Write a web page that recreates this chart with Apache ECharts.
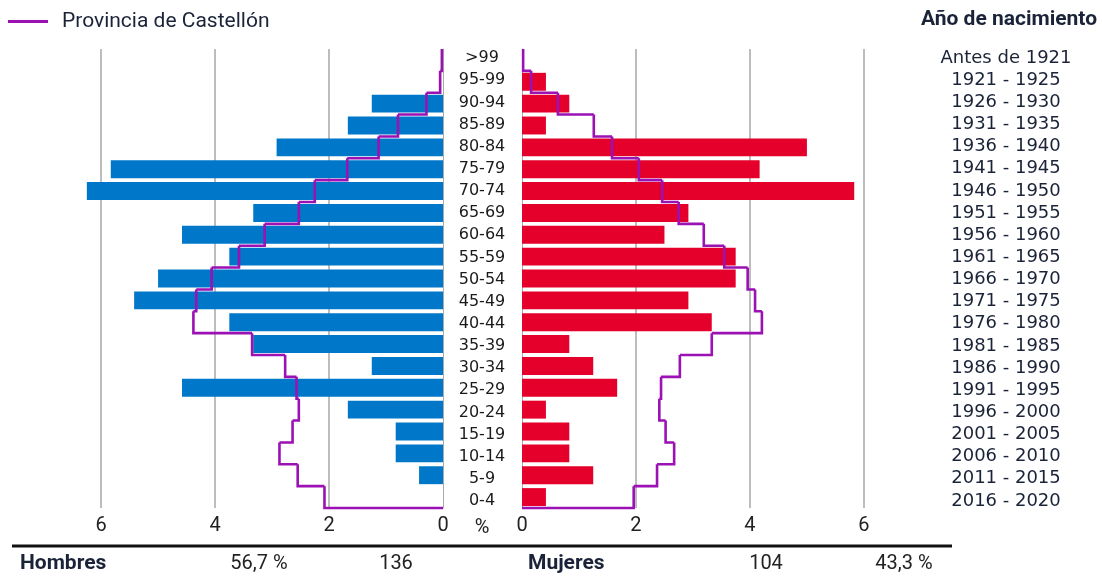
<!DOCTYPE html>
<html><head><meta charset="utf-8">
<script src="https://cdn.jsdelivr.net/npm/echarts@6/dist/echarts.min.js"></script>
<style>html,body{margin:0;padding:0;background:#fff}#c{width:1102px;height:579px}</style>
</head><body><div id="c"></div>
<script>
// ---- data (top row first) ----
const ageGroups = ['>99','95-99','90-94','85-89','80-84','75-79','70-74','65-69','60-64','55-59','50-54','45-49','40-44','35-39','30-34','25-29','20-24','15-19','10-14','5-9','0-4'];
const birthYears = ['Antes de 1921','1921 - 1925','1926 - 1930','1931 - 1935','1936 - 1940','1941 - 1945','1946 - 1950','1951 - 1955','1956 - 1960','1961 - 1965','1966 - 1970','1971 - 1975','1976 - 1980','1981 - 1985','1986 - 1990','1991 - 1995','1996 - 2000','2001 - 2005','2006 - 2010','2011 - 2015','2016 - 2020'];
const menPct = [0, 0, 1.25, 1.67, 2.92, 5.83, 6.25, 3.33, 4.58, 3.75, 5.00, 5.42, 3.75, 3.33, 1.25, 4.58, 1.67, 0.83, 0.83, 0.42, 0];
const womenPct = [0, 0.42, 0.83, 0.42, 5.00, 4.17, 5.83, 2.92, 2.50, 3.75, 3.75, 2.92, 3.33, 0.83, 1.25, 1.67, 0.42, 0.83, 0.83, 1.25, 0.42];
const provMenPct = [0.02, 0.05, 0.29, 0.79, 1.13, 1.68, 2.25, 2.53, 3.13, 3.58, 4.06, 4.33, 4.38, 3.35, 2.77, 2.57, 2.53, 2.64, 2.87, 2.55, 2.08];
const provWomenPct = [0.02, 0.16, 0.63, 1.26, 1.58, 2.05, 2.46, 2.75, 3.19, 3.55, 3.96, 4.09, 4.21, 3.33, 2.77, 2.44, 2.41, 2.52, 2.67, 2.37, 1.96];
const gridTicks = [2, 4, 6];
const legendName = 'Provincia de Castellón';
const menLabel = 'Hombres', menShare = '56,7 %', menCount = '136';
const womenLabel = 'Mujeres', womenCount = '104', womenShare = '43,3 %';
const yearsTitle = 'Año de nacimiento';

const BLUE = '#0077c8', RED = '#e4002b', PURPLE = '#9b11b4';
const TXT = '#1b2338';
const AXMAX = 6.3;

function stepData(vals) {
  return vals.map((v, i) => [v, i, i < vals.length - 1 ? vals[i + 1] : 0]);
}
function stepRender(params, api) {
  const v = api.value(0), i = api.value(1), vn = api.value(2);
  const c = api.coord([v, i]);
  const n = api.coord([vn, i]);
  const h = api.size([0, 1])[1];
  const top = c[1] - h / 2, bot = c[1] + h / 2;
  return {
    type: 'polyline',
    shape: { points: [[c[0], top], [c[0], bot], [n[0], bot]] },
    style: { stroke: PURPLE, lineWidth: 2.6, fill: null }
  };
}
const gridLineMark = {
  silent: true, symbol: 'none', z: 1,
  label: { show: false },
  lineStyle: { color: '#bdbdbd', width: 2, type: 'solid' },
  emphasis: { disabled: true },
  data: gridTicks.map(t => ({ xAxis: t }))
};
const xLabel = {
  color: '#222', fontFamily: 'Roboto', fontSize: 20, margin: 8,
  showMaxLabel: false,
  formatter: v => (Math.abs(v - Math.round(v)) < 1e-9 ? String(v) : '')
};

const chart = echarts.init(document.getElementById('c'), null, { renderer: 'canvas' });
chart.setOption({
  animation: false,
  backgroundColor: '#fff',
  legend: {
    left: 3, top: 6,
    icon: 'rect', itemWidth: 40, itemHeight: 3,
    textStyle: { fontFamily: 'Roboto', fontSize: 21, color: TXT, padding: [0, 0, 0, 9] },
    data: [{ name: legendName, itemStyle: { color: PURPLE } }],
    selectedMode: false
  },
  grid: [
    { left: 84, width: 359, top: 49, height: 459 },
    { left: 522, width: 359, top: 49, height: 459 },
    { left: 522, width: 359, top: 47, height: 465 }
  ],
  xAxis: [
    { gridIndex: 0, type: 'value', inverse: true, min: 0, max: AXMAX, interval: 2,
      axisLine: { show: false }, axisTick: { show: false }, splitLine: { show: false }, axisLabel: xLabel },
    { gridIndex: 1, type: 'value', min: 0, max: AXMAX, interval: 2,
      axisLine: { show: false }, axisTick: { show: false }, splitLine: { show: false }, axisLabel: xLabel },
    { gridIndex: 2, type: 'value', min: 0, max: AXMAX, show: false }
  ],
  yAxis: [
    { gridIndex: 0, type: 'category', data: ageGroups, inverse: true, position: 'right',
      axisLine: { show: true, lineStyle: { color: '#aaaaaa', width: 1 } },
      axisTick: { show: false }, axisLabel: { show: false }, splitLine: { show: false } },
    { gridIndex: 1, type: 'category', data: ageGroups, inverse: true, position: 'left',
      axisLine: { show: true, lineStyle: { color: '#aaaaaa', width: 1 } },
      axisTick: { show: false }, splitLine: { show: false }, axisLabel: { show: false } },
    { gridIndex: 2, type: 'category', data: ageGroups, inverse: true, position: 'left',
      axisLine: { show: false }, axisTick: { show: false }, splitLine: { show: false },
      axisLabel: { show: true, interval: 0, margin: 40, align: 'center', color: '#1a1a1a',
        fontFamily: 'DejaVu Sans', fontSize: 16 } },
    { gridIndex: 2, type: 'category', data: birthYears, inverse: true, position: 'right',
      axisLine: { show: false }, axisTick: { show: false }, splitLine: { show: false },
      axisLabel: { show: true, interval: 0, margin: 125, align: 'center', color: TXT,
        fontFamily: 'DejaVu Sans', fontSize: 18 } }
  ],
  series: [
    { name: 'Hombres', type: 'bar', xAxisIndex: 0, yAxisIndex: 0, data: menPct, barWidth: '82%',
      itemStyle: { color: BLUE }, z: 2, markLine: gridLineMark },
    { name: 'Mujeres', type: 'bar', xAxisIndex: 1, yAxisIndex: 1, data: womenPct, barWidth: '82%',
      itemStyle: { color: RED }, z: 2, markLine: gridLineMark },
    { name: legendName, type: 'custom', xAxisIndex: 0, yAxisIndex: 0, data: stepData(provMenPct),
      encode: { x: 0, y: 1 }, renderItem: stepRender, itemStyle: { color: PURPLE }, z: 3, clip: false },
    { name: legendName, type: 'custom', xAxisIndex: 1, yAxisIndex: 1, data: stepData(provWomenPct),
      encode: { x: 0, y: 1 }, renderItem: stepRender, itemStyle: { color: PURPLE }, z: 3, clip: false }
  ],
  graphic: [
    { type: 'text', right: 5, top: 9, style: { text: yearsTitle, fill: TXT, font: 'bold 21px Roboto' } },
    { type: 'text', x: 482, y: 528, style: { text: '%', fill: '#222', font: '20px Roboto', align: 'center', verticalAlign: 'middle' } },
    { type: 'line', shape: { x1: 12, y1: 546, x2: 952, y2: 546 }, style: { stroke: '#111', lineWidth: 3 } },
    { type: 'text', x: 20, y: 564, style: { text: menLabel, fill: TXT, font: 'bold 21px Roboto', align: 'left', verticalAlign: 'middle' } },
    { type: 'text', x: 259, y: 564, style: { text: menShare, fill: '#222', font: '20px Roboto', align: 'center', verticalAlign: 'middle' } },
    { type: 'text', x: 396, y: 564, style: { text: menCount, fill: '#222', font: '20px Roboto', align: 'center', verticalAlign: 'middle' } },
    { type: 'text', x: 528, y: 564, style: { text: womenLabel, fill: TXT, font: 'bold 21px Roboto', align: 'left', verticalAlign: 'middle' } },
    { type: 'text', x: 766, y: 564, style: { text: womenCount, fill: '#222', font: '20px Roboto', align: 'center', verticalAlign: 'middle' } },
    { type: 'text', x: 904, y: 564, style: { text: womenShare, fill: '#222', font: '20px Roboto', align: 'center', verticalAlign: 'middle' } }
  ]
});
</script>
</body></html>
